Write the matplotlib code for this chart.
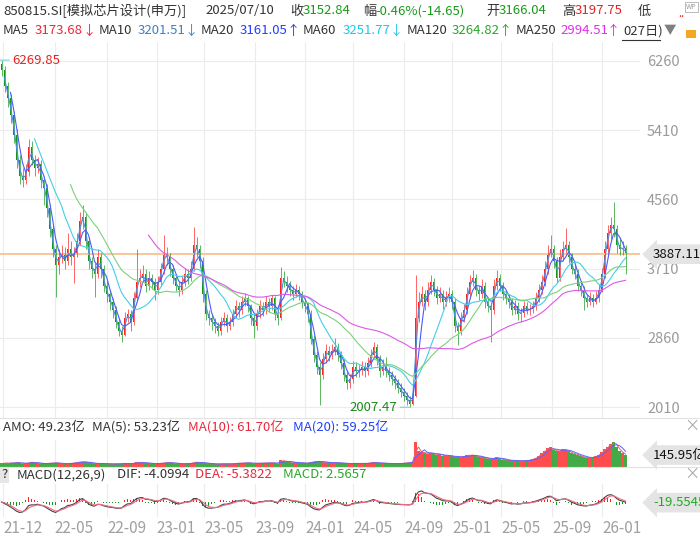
import numpy as np
import pandas as pd
import matplotlib
matplotlib.use('Agg')
import matplotlib.pyplot as plt
from matplotlib.lines import Line2D
from matplotlib.patches import Rectangle
from matplotlib.transforms import blended_transform_factory

plt.rcParams['font.family'] = ['Noto Sans CJK SC', 'DejaVu Sans']

# weekly candles (one candle ~ 3 px)
first_open = 6220
closes = [
    6150, 5950, 5800, 5600, 5350, 5050, 4850, 4800, 4900, 5200, 5050, 4950, 5000, 4800, 4700, 4450, 4200,
    3950, 3750, 3850, 3900, 3800, 3950, 3850, 3900, 4050, 4300, 4350, 4050, 3800, 3700, 3650, 3850, 3700,
    3500, 3400, 3300, 3200, 3050, 2950, 2900, 3100, 3150, 3050, 3350, 3550, 3600, 3650, 3500, 3600, 3550,
    3450, 3550, 3700, 3900, 3850, 3700, 3600, 3500, 3450, 3550, 3650, 3600, 3700, 4000, 3950, 3800, 3400,
    3150, 3100, 3050, 3000, 2950, 3050, 3100, 3000, 3050, 3150, 3250, 3200, 3300, 3350, 3250, 3100, 3000,
    3150, 3250, 3200, 3300, 3250, 3350, 3150, 3100, 3600, 3550, 3500, 3450, 3400, 3450, 3400, 3300, 3250,
    3150, 2850, 2650, 2500, 2400, 2600, 2700, 2650, 2700, 2750, 2650, 2550, 2400, 2300, 2350, 2500, 2450,
    2460, 2500, 2450, 2550, 2650, 2750, 2600, 2450, 2500, 2450, 2400, 2350, 2300, 2250, 2200, 2150, 2100,
    2050, 2150, 3100, 3300, 3400, 3300, 3450, 3550, 3450, 3350, 3400, 3300, 3350, 3400, 3300, 3000, 2950,
    3100, 3200, 3400, 3550, 3600, 3450, 3400, 3500, 3300, 3250, 3200, 3500, 3600, 3500, 3400, 3350, 3300,
    3200, 3250, 3150, 3170, 3250, 3200, 3210, 3250, 3350, 3450, 3550, 3700, 3900, 3950, 3800, 3600, 3850,
    3950, 4000, 3850, 3700, 3650, 3500, 3450, 3350, 3300, 3350, 3300, 3350, 3450, 3650, 3950, 4150, 4250,
    4200, 4000, 3950, 3960, 3887.11,
]
highs = [
    6269.85, 6200, 6000, 5850, 5650, 5420, 5100, 4950, 5000, 5300, 5280, 5100, 5080, 5050, 4850, 4750, 4500,
    4250, 4000, 3950, 4000, 3980, 4150, 4050, 3980, 4150, 4400, 4490, 4400, 4100, 3850, 3780, 3950, 3900,
    3750, 3560, 3450, 3350, 3250, 3100, 3000, 3180, 3220, 3200, 3420, 3950, 3700, 3760, 3700, 3680, 3650,
    3600, 3620, 3780, 4120, 3980, 3900, 3750, 3650, 3560, 3620, 3720, 3700, 3800, 4220, 4100, 4000, 3850,
    3450, 3200, 3150, 3100, 3050, 3120, 3180, 3150, 3120, 3220, 3320, 3300, 3380, 3410, 3380, 3280, 3150,
    3220, 3320, 3300, 3370, 3350, 3390, 3380, 3200, 3730, 3680, 3620, 3560, 3500, 3520, 3500, 3440, 3350,
    3300, 3200, 2900, 2700, 2560, 2680, 2780, 2760, 2780, 2860, 2800, 2700, 2600, 2450, 2420, 2580, 2560,
    2530, 2580, 2560, 2620, 2720, 2810, 2780, 2650, 2600, 2620, 2500, 2450, 2400, 2350, 2300, 2250, 2200,
    2150, 2250, 3630, 3420, 3500, 3450, 3550, 3630, 3600, 3500, 3480, 3450, 3430, 3480, 3450, 3350, 3050,
    3180, 3280, 3480, 3630, 3690, 3650, 3500, 3580, 3550, 3350, 3300, 3580, 3690, 3650, 3550, 3450, 3400,
    3350, 3320, 3300, 3230, 3310, 3300, 3280, 3310, 3420, 3520, 3630, 3800, 4000, 4120, 4000, 3850, 3950,
    4050, 4210, 4050, 3900, 3760, 3700, 3560, 3500, 3400, 3420, 3400, 3430, 3520, 3720, 4050, 4250, 4350,
    4530, 4250, 4100, 4050, 4000,
]
lows = [
    6080, 5880, 5700, 5500, 5250, 4950, 4750, 4710, 4750, 4850, 4980, 4850, 4880, 4700, 4490, 4350, 4100,
    3850, 3360, 3650, 3780, 3700, 3750, 3750, 3530, 3850, 4000, 4200, 3950, 3700, 3600, 3360, 3600, 3600,
    3420, 3300, 3200, 3100, 2980, 2880, 2810, 2880, 3050, 2950, 3020, 3300, 3480, 3550, 3420, 3450, 3460,
    3330, 3400, 3500, 3650, 3750, 3620, 3520, 3430, 3380, 3400, 3500, 3520, 3560, 3680, 3850, 3720, 3300,
    3080, 3020, 2960, 2920, 2880, 2900, 3000, 2930, 2960, 3000, 3100, 3120, 3150, 3250, 3180, 3020, 2860,
    2960, 3100, 3130, 3150, 3180, 3200, 3080, 3020, 3080, 3480, 3420, 3380, 3330, 3360, 3330, 3230, 3180,
    3060, 2780, 2560, 2420, 2040, 2350, 2550, 2580, 2600, 2650, 2580, 2480, 2330, 2230, 2250, 2300, 2380,
    2380, 2400, 2380, 2400, 2500, 2600, 2530, 2380, 2400, 2380, 2330, 2280, 2230, 2180, 2130, 2080, 2040,
    2007.47, 2030, 2130, 3050, 3250, 3200, 3250, 3400, 3380, 3280, 3300, 3220, 3250, 3300, 3220, 2930, 2770,
    2900, 3050, 3150, 3350, 3500, 3380, 3330, 3350, 3230, 3180, 2810, 3150, 3450, 3430, 3330, 3280, 3230,
    3140, 3150, 3080, 3060, 3120, 3150, 3140, 3170, 3200, 3300, 3400, 3500, 3650, 3850, 3720, 3550, 3560,
    3800, 3900, 3780, 3640, 3580, 3440, 3380, 3200, 3240, 3260, 3240, 3270, 3300, 3420, 3600, 3900, 4080,
    4100, 3900, 3880, 3880, 3650,
]
# turnover, 亿
amount = [
    45, 50, 48, 44, 52, 55, 50, 42, 40, 55, 60, 50, 45, 42, 40, 44, 46,
    48, 52, 45, 40, 38, 42, 45, 50, 55, 62, 65, 58, 50, 45, 42, 40, 45,
    42, 38, 36, 35, 40, 38, 42, 45, 40, 38, 50, 58, 55, 50, 46, 44, 42,
    40, 42, 46, 50, 55, 52, 46, 42, 40, 38, 40, 42, 45, 55, 60, 52, 48,
    45, 40, 38, 36, 35, 38, 40, 38, 36, 40, 44, 48, 46, 50, 52, 46, 42,
    44, 48, 46, 50, 48, 52, 46, 42, 80, 75, 65, 58, 55, 52, 50, 48, 46,
    44, 60, 65, 70, 68, 58, 55, 52, 50, 54, 50, 46, 44, 42, 40, 45, 44,
    42, 44, 42, 46, 52, 58, 50, 44, 46, 44, 42, 40, 42, 40, 44, 48, 50,
    55, 60, 300, 190, 180, 170, 165, 175, 160, 150, 155, 140, 135, 140, 130, 120, 125,
    120, 130, 145, 140, 150, 130, 125, 120, 110, 100, 95, 110, 120, 100, 90, 85, 80,
    75, 80, 78, 72, 75, 80, 85, 95, 110, 140, 170, 200, 230, 240, 210, 190, 200,
    220, 210, 190, 170, 160, 150, 130, 120, 115, 110, 120, 130, 150, 180, 220, 250, 280,
    310, 250, 200, 170, 145.95,
]

month_labels = ['21-12', '22-05', '22-09', '23-01', '23-05', '23-09', '24-01',
                '24-05', '24-09', '25-01', '25-05', '25-09', '26-01']
month_pos = [0.5, 17.8, 35.2, 51.8, 67.5, 84.5, 101.2, 117.2, 134.2, 150.2, 166.5, 183.5, 200.2]
price_ticks = [2010, 2860, 3710, 4560, 5410, 6260]
macd_last = -19.5545

UP = '#ff2020'
DN = '#13961a'
GRID = '#ececec'
DARK = '#333333'
W, H = 700, 536

fig = plt.figure(figsize=(7, 5.36), dpi=100)
renderer = fig.canvas.get_renderer()


def rect(x0, y0, x1, y1):
    return [x0 / W, 1 - y1 / H, (x1 - x0) / W, (y1 - y0) / H]


def ftext(x, y, s, color=DARK, size=10, **kw):
    return fig.text(x / W, 1 - y / H, s, color=color, fontsize=size, va='center', ha='left', **kw)


def text_row(y, items, size=10):
    # items: (x wanted, text, colour); x=None means right after the previous piece
    end = 0
    for x, t, cl in items:
        x = end - 1 if x is None else max(x, end + 3)
        txt = ftext(x, y, t, cl, size)
        end = txt.get_window_extent(renderer).x1


ax = fig.add_axes(rect(0, 42, 640, 418))
axv = fig.add_axes(rect(0, 440, 640, 467))
axm = fig.add_axes(rect(0, 484, 640, 517))

c = np.array(closes, dtype=float)
o = np.r_[first_open, c[:-1]]
h = np.array(highs, dtype=float)
l = np.array(lows, dtype=float)
idx = np.arange(len(c))
up = c >= o
col = np.where(up, UP, DN)

xl = (-0.5, 640 / 3 - 0.5)
for a in (ax, axv, axm):
    a.set_xlim(*xl)
    a.set_xticks(month_pos)
    a.grid(axis='x', color=GRID, lw=0.8)
    a.set_axisbelow(True)
    for sp in a.spines.values():
        sp.set_visible(False)
    a.tick_params(axis='both', length=0, labelbottom=False, labelleft=False)

# price panel
ax.set_ylim(1876, 6493)
ax.yaxis.tick_right()
ax.set_yticks(price_ticks)
ax.tick_params(axis='y', labelright=True, labelsize=10.5, labelcolor='#9a9a9a', pad=5)
ax.grid(axis='y', color=GRID, lw=0.8)
ax.vlines(idx, l, h, colors=col, lw=0.6, alpha=0.8)
ax.bar(idx, np.maximum(np.abs(c - o), 10), bottom=np.minimum(o, c), width=0.6, color=col, lw=0)

s = pd.Series(c)
ma_styles = [(2, '#4d8fd8'), (4, '#4a5cff'), (12, '#46cde6'), (24, '#7dd07d'), (50, '#dc5ae8')]
for n, color in ma_styles:
    ax.plot(idx, s.rolling(n).mean(), color=color, lw=0.8)

ax.axhline(c[-1], color='#f8c79a', lw=1.4, zorder=1)
bt = blended_transform_factory(ax.transAxes, ax.transData)
ax.text(1 + 13 / 640, c[-1], f'{c[-1]:.2f}', transform=bt, fontsize=9.5, color='#111111',
        va='center', ha='left', bbox=dict(boxstyle='larrow,pad=0.25', fc='#e4e4e4', ec='none'))

imax, imin = int(np.argmax(h)), int(np.argmin(l))
ax.annotate(f'{h[imax]:.2f}', xy=(imax - 0.5, h[imax]), xytext=(12, 0), textcoords='offset pixels',
            ha='left', va='center', color='#e02424', fontsize=9.5,
            arrowprops=dict(arrowstyle='-', color='#8fcfe6', lw=0.9, shrinkA=0, shrinkB=0))
ax.annotate(f'{l[imin]:.2f}', xy=(imin, l[imin]), xytext=(-12, 0), textcoords='offset pixels',
            ha='right', va='center', color='#1a8a1a', fontsize=9.5,
            arrowprops=dict(arrowstyle='-', color='#8fcfe6', lw=0.9, shrinkA=0, shrinkB=0))

# turnover panel
v = np.array(amount, dtype=float)
axv.set_ylim(0, 330)
axv.bar(idx, v, width=0.7, color=col, lw=0, alpha=0.8)
va = pd.Series(v)
axv.plot(idx, va.rolling(2).mean(), color='#ef5a70', lw=0.7)
axv.plot(idx, va.rolling(4).mean(), color='#5566ff', lw=0.7)
btv = blended_transform_factory(axv.transAxes, axv.transData)
axv.text(1 + 13 / 640, v[-1], f'{v[-1]:.2f}亿', transform=btv, fontsize=9.5, color='#111111',
         va='center', ha='left', bbox=dict(boxstyle='larrow,pad=0.25', fc='#e4e4e4', ec='none'))

# MACD panel (spans scaled to weekly candles)
fast = s.ewm(span=3, adjust=False).mean()
slow = s.ewm(span=7, adjust=False).mean()
dif = fast - slow
dea = dif.ewm(span=3, adjust=False).mean()
hist = 2 * (dif - dea)
peak = max(dif.abs().max(), hist.abs().max())
unit = max(np.percentile(np.abs(dif), 95) / 8, peak / 16)
axm.set_ylim(-15 * unit, 18 * unit)
axm.bar(idx, hist, width=0.6, color=np.where(hist >= 0, UP, DN), lw=0)
axm.plot(idx, dif, color='#444444', lw=0.8)
axm.plot(idx, dea, color='#f06a84', lw=0.8)
axm.set_xticklabels(month_labels)
axm.tick_params(axis='x', labelbottom=True, labelsize=11, labelcolor='#a0a0a0', pad=2)
for t in axm.get_xticklabels():
    t.set_ha('left')
btm = blended_transform_factory(axm.transAxes, axm.transData)
axm.text(1 + 13 / 640, macd_last, f'{macd_last:.4f}', transform=btm, fontsize=9.5, color='#22aa22',
         va='center', ha='left', bbox=dict(boxstyle='larrow,pad=0.25', fc='#e4e4e4', ec='none'))

# separators
for yy in (418, 467):
    fig.add_artist(Line2D([0, 1], [1 - yy / H] * 2, color='#e2e2e2', lw=0.8))

# header line 1
GRN = '#1a9a1a'
RED = '#e02424'
text_row(11, [(0, '850815.SI[模拟芯片设计(申万)]', DARK), (205, '2025/07/10', DARK),
              (290, '收', DARK), (None, '3152.84', GRN), (363, '幅', DARK),
              (None, '-0.46%(-14.65)', GRN), (486, '开', DARK), (None, '3166.04', GRN),
              (562, '高', DARK), (None, '3197.75', RED), (638, '低', DARK)], size=9.5)
ftext(678, 14, '..', '#e02424', size=8)
ftext(686, 7, 'WP', '#9a9a9a', size=5,
      bbox=dict(fc='white', ec='#b0b0b0', lw=0.6, pad=0.8))

# header line 2
text_row(31, [(0, 'MA5', DARK), (35, '3173.68', '#e8283c'), (None, '↓', '#e8283c'),
              (95, 'MA10', DARK), (138, '3201.51', '#3d80c8'), (None, '↓', '#3d80c8'),
              (197, 'MA20', DARK), (240, '3161.05', '#2040ff'), (None, '↑', '#2040ff'),
              (300, 'MA60', DARK), (343, '3251.77', '#1ec8e8'), (None, '↓', '#1ec8e8'),
              (403, 'MA120', DARK), (452, '3264.82', '#28a828'), (None, '↑', '#28a828'),
              (512, 'MA250', DARK), (560, '2994.51', '#e030e8'), (None, '↑', '#e030e8'),
              (620, '027日)', DARK)], size=9.5)
ftext(664, 31, '▼', '#808080', size=9)
fig.add_artist(Line2D([622 / W, 660 / W], [1 - 40 / H] * 2, color=DARK, lw=0.8))
fig.add_artist(Rectangle((686 / W, 1 - 38 / H), 10 / W, 8 / H, color='#f5a623', lw=0))

# turnover header
text_row(427, [(0, 'AMO: 49.23亿', DARK), (92, 'MA(5): 53.23亿', DARK),
               (188, 'MA(10): 61.70亿', '#e8283c'), (293, 'MA(20): 59.25亿', '#2040ff')], size=9.5)
ftext(684, 426, '×', '#aaaaaa', size=11)

# MACD header
ftext(1, 475, '?', DARK, size=9.5, bbox=dict(fc='#e6e6e6', ec='none', pad=1.2))
text_row(475, [(17, 'MACD(12,26,9)', DARK), (117, 'DIF: -4.0994', DARK),
               (195, 'DEA: -5.3822', '#e8283c'), (283, 'MACD: 2.5657', '#28a828')], size=9.5)
ftext(684, 474, '×', '#aaaaaa', size=11)

fig.savefig('out.png', dpi=100)
